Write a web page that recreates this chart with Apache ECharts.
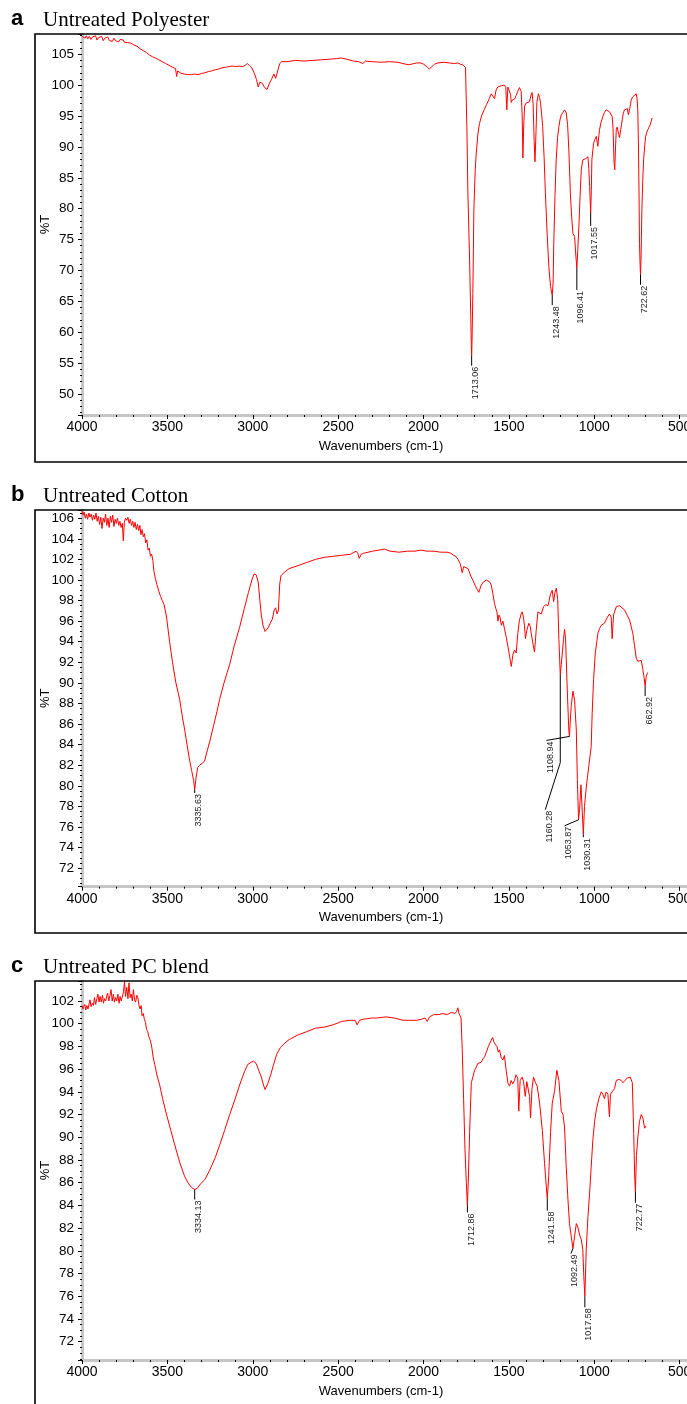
<!DOCTYPE html>
<html>
<head>
<meta charset="utf-8">
<script src="https://cdn.jsdelivr.net/npm/echarts@6/dist/echarts.min.js"></script>
<style>
  html, body { margin: 0; padding: 0; background: #fff; }
  #main { width: 687px; height: 1404px; }
</style>
</head>
<body>
<div id="main"></div>
<script>
// wavenumber (cm-1), %T pairs
var polyester = [
  [4000,107.9],[3990,108.1],[3982,107.6],[3975,108.0],[3966,107.5],[3957,107.9],[3948,107.4],[3939,107.8],[3930,107.6],[3921,108.0],
  [3912,107.3],[3903,107.7],[3894,107.4],[3885,107.9],[3876,107.2],[3867,107.6],[3858,107.3],[3849,107.8],[3840,107.2],[3831,107.5],
  [3822,107.1],[3813,107.6],[3804,107.2],[3795,107.5],[3786,107.0],[3777,107.4],[3768,107.1],[3759,107.3],[3750,106.9],[3741,107.2],
  [3732,106.9],[3723,107.1],[3714,106.8],[3705,107.0],[3696,106.5],[3687,106.7],[3678,106.3],[3669,106.4],[3660,105.9],[3651,106.1],
  [3642,105.6],[3633,105.8],[3624,105.3],[3615,105.4],[3606,104.9],[3597,105.0],[3588,104.6],[3579,104.7],[3570,104.4],[3560,104.2],
  [3550,104.1],[3540,103.9],[3530,103.8],[3520,103.6],[3510,103.5],[3500,103.3],[3490,103.2],[3480,103.0],[3470,102.9],[3460,102.8],
  [3452,102.7],[3446,101.4],[3440,102.3],[3430,102.2],[3420,101.9],[3410,102.1],[3400,101.8],[3390,102.0],[3380,101.7],[3370,101.9],
  [3360,101.7],[3340,101.8],[3320,101.7],[3300,101.9],[3280,102.0],[3260,102.2],[3240,102.3],[3220,102.5],[3200,102.6],[3180,102.8],
  [3160,102.9],[3140,103.0],[3120,103.1],[3100,103.0],[3080,103.1],[3060,103.0],[3045,103.2],[3032,103.5],[3020,103.2],[3006,102.8],
  [2992,102.0],[2978,100.9],[2968,99.7],[2958,100.5],[2944,100.3],[2930,99.6],[2916,99.3],[2904,100.2],[2891,100.9],[2876,101.8],
  [2866,101.1],[2855,101.4],[2842,103.5],[2830,103.8],[2800,103.8],[2750,104.0],[2700,103.9],[2650,104.0],[2600,104.1],[2550,104.2],
  [2510,104.3],[2480,104.4],[2450,104.2],[2410,103.9],[2380,103.8],[2355,103.5],[2340,103.9],[2300,103.8],[2250,103.7],[2200,103.8],
  [2150,103.7],[2120,103.5],[2090,103.3],[2070,103.4],[2040,103.6],[2018,103.6],[2000,103.4],[1980,103.0],[1966,102.6],[1956,102.8],
  [1935,103.4],[1915,103.6],[1880,103.7],[1850,103.6],[1820,103.5],[1800,103.6],[1785,103.4],[1772,103.3],[1762,103.0],[1754,102.9],
  [1746,93.3],[1740,82.5],[1730,71.7],[1724,63.6],[1720,58.0],[1718,56.2],[1716,58.2],[1711,66.3],[1705,79.8],[1697,86.3],
  [1691,89.0],[1681,92.2],[1672,93.8],[1660,95.0],[1645,96.0],[1630,96.9],[1615,97.8],[1603,98.6],[1593,98.9],[1584,97.8],
  [1575,99.2],[1565,99.7],[1545,99.9],[1526,100.0],[1518,99.6],[1512,96.0],[1506,99.7],[1497,100.0],[1490,98.5],[1486,97.2],
  [1480,97.6],[1474,97.4],[1465,97.8],[1458,98.3],[1448,99.0],[1438,99.6],[1428,99.0],[1422,95.0],[1418,88.2],[1413,93.5],
  [1408,96.6],[1399,97.1],[1388,97.0],[1380,97.3],[1370,98.4],[1364,98.8],[1358,97.0],[1352,91.0],[1347,87.6],[1341,92.5],
  [1336,97.2],[1327,98.6],[1320,98.0],[1314,97.0],[1308,95.2],[1302,93.3],[1294,88.5],[1286,82.5],[1276,76.0],[1266,70.6],
  [1256,67.4],[1250,66.5],[1246,66.0],[1241,68.0],[1237,74.4],[1230,82.0],[1223,87.9],[1215,91.5],[1207,93.3],[1200,94.5],
  [1193,95.2],[1183,95.6],[1174,96.0],[1168,95.8],[1164,95.5],[1156,93.6],[1148,89.0],[1140,82.5],[1132,78.5],[1125,76.0],
  [1115,75.5],[1108,72.5],[1102,70.4],[1096,73.5],[1090,77.1],[1083,82.0],[1076,86.3],[1067,87.9],[1058,88.0],[1051,88.1],
  [1044,87.8],[1037,88.4],[1032,86.5],[1027,83.6],[1021,79.3],[1017,83.0],[1014,87.9],[1008,89.5],[1004,90.6],[996,91.2],
  [988,91.7],[982,90.6],[979,90.1],[973,91.8],[969,92.8],[960,94.0],[950,94.9],[940,95.6],[930,96.0],[920,96.1],
  [911,95.7],[903,95.3],[895,94.9],[890,93.0],[884,87.5],[880,86.3],[876,89.5],[871,92.8],[866,93.2],[862,93.1],
  [856,92.0],[852,91.5],[845,92.8],[836,94.4],[830,95.4],[823,96.0],[812,96.1],[806,96.2],[800,95.2],[797,94.9],
  [790,96.5],[784,97.6],[775,98.1],[764,98.4],[754,98.6],[749,97.8],[745,96.0],[741,90.0],[738,83.0],[735,74.4],
  [731,70.5],[729,69.3],[726,72.0],[721,79.8],[716,84.5],[711,87.9],[705,90.0],[699,91.7],[692,92.4],[686,92.8],
  [679,93.2],[672,93.6],[666,94.2],[661,94.7]
];

var cotton = [
  [4000,106.7],[3994,106.3],[3988,106.6],[3981,106.0],[3974,106.4],[3967,105.9],[3960,106.5],[3953,106.1],[3946,106.4],[3939,105.8],
  [3932,106.3],[3925,105.9],[3918,106.5],[3911,105.7],[3904,106.2],[3897,105.4],[3890,106.1],[3883,105.0],[3876,106.0],[3869,105.6],
  [3862,106.4],[3855,105.3],[3848,106.0],[3841,105.1],[3834,106.2],[3827,105.6],[3820,106.3],[3813,105.2],[3806,105.9],[3799,105.5],
  [3792,106.0],[3785,105.3],[3778,105.7],[3771,105.1],[3764,105.5],[3758,103.8],[3752,105.6],[3745,106.0],[3738,105.8],[3731,106.1],
  [3724,105.5],[3717,105.9],[3710,105.3],[3703,105.7],[3696,105.1],[3689,105.6],[3682,104.9],[3675,105.4],[3668,104.8],[3661,105.3],
  [3655,104.4],[3648,104.9],[3641,104.2],[3634,104.5],[3627,103.6],[3620,103.9],[3613,102.9],[3606,103.1],[3599,102.3],[3592,102.5],
  [3585,101.9],[3578,100.8],[3571,100.2],[3562,99.6],[3550,98.9],[3540,98.4],[3530,98.0],[3519,97.6],[3505,96.4],[3487,94.0],
  [3470,92.0],[3450,90.0],[3428,88.4],[3410,86.5],[3399,85.5],[3385,84.0],[3370,82.5],[3358,81.5],[3346,80.5],[3340,79.6],
  [3332,80.8],[3322,81.8],[3311,82.0],[3296,82.2],[3282,82.4],[3270,83.2],[3252,84.3],[3230,85.8],[3210,87.2],[3194,88.4],
  [3170,89.9],[3150,91.0],[3135,91.8],[3110,93.5],[3077,95.4],[3050,97.2],[3025,98.8],[3005,100.0],[2992,100.6],[2980,100.5],
  [2968,99.8],[2958,98.0],[2950,96.6],[2940,95.6],[2928,95.0],[2918,94.9],[2908,95.4],[2895,95.9],[2885,96.2],[2874,97.1],
  [2866,97.3],[2858,96.7],[2850,97.0],[2842,99.6],[2835,100.4],[2812,100.8],[2787,101.1],[2735,101.4],[2684,101.7],[2633,102.0],
  [2582,102.2],[2530,102.3],[2479,102.4],[2427,102.5],[2395,102.8],[2385,102.6],[2376,102.1],[2365,102.5],[2350,102.6],[2299,102.8],
  [2260,102.9],[2230,103.0],[2196,102.8],[2144,102.7],[2093,102.8],[2050,102.8],[2016,102.9],[1980,102.8],[1939,102.8],[1900,102.7],
  [1862,102.7],[1840,102.6],[1824,102.4],[1810,102.3],[1798,102.0],[1785,101.6],[1773,100.7],[1765,101.3],[1755,101.3],[1739,101.1],
  [1721,100.3],[1711,100.0],[1696,99.4],[1688,99.5],[1676,98.8],[1668,99.2],[1662,99.5],[1650,99.8],[1642,99.8],[1632,100.0],
  [1623,100.0],[1612,99.8],[1603,99.5],[1594,98.7],[1584,97.7],[1576,97.2],[1570,96.9],[1564,96.0],[1558,96.6],[1552,96.4],
  [1544,95.6],[1535,96.0],[1525,95.2],[1515,94.4],[1505,93.5],[1498,92.8],[1492,92.2],[1486,91.6],[1480,92.3],[1477,92.7],
  [1467,93.2],[1457,92.9],[1448,94.8],[1438,96.1],[1428,96.7],[1422,96.9],[1415,96.4],[1409,95.6],[1403,94.3],[1395,95.1],
  [1383,95.8],[1375,95.5],[1369,94.8],[1360,93.9],[1350,93.0],[1345,94.0],[1340,95.1],[1330,96.9],[1320,96.9],[1310,96.7],
  [1297,97.4],[1285,97.6],[1271,97.5],[1264,98.0],[1257,98.6],[1246,99.0],[1238,97.9],[1230,98.8],[1222,99.2],[1214,98.1],
  [1207,94.2],[1199,90.8],[1193,91.8],[1187,92.9],[1180,94.2],[1174,95.2],[1168,94.3],[1158,89.3],[1149,85.4],[1145,84.8],
  [1140,86.4],[1135,87.7],[1125,89.2],[1115,88.3],[1105,85.4],[1099,80.6],[1092,76.7],[1086,77.7],[1078,80.1],[1070,77.4],
  [1064,75.3],[1057,78.0],[1047,79.8],[1040,80.8],[1032,81.9],[1018,83.8],[1012,87.1],[1004,90.3],[994,92.9],[985,94.0],
  [979,94.8],[969,95.3],[959,95.6],[950,95.7],[940,95.8],[926,96.3],[911,96.7],[901,96.4],[895,94.3],[890,95.8],
  [887,96.6],[879,97.0],[871,97.4],[862,97.5],[852,97.5],[838,97.3],[823,97.1],[808,96.6],[793,96.1],[784,95.5],
  [774,94.8],[764,93.6],[754,92.4],[745,92.1],[735,92.1],[725,92.2],[715,91.3],[708,90.5],[702,89.7],[696,90.6],
  [688,91.0]
];

var pcBlend = [
  [4000,101.6],[3995,101.3],[3990,101.5],[3984,101.7],[3978,101.2],[3972,101.6],[3965,101.3],[3959,101.4],[3953,102.1],[3947,101.5],
  [3940,101.8],[3933,101.6],[3927,102.3],[3920,101.7],[3913,102.2],[3907,102.6],[3900,101.9],[3894,102.4],[3887,101.9],[3880,102.5],
  [3874,101.8],[3868,102.2],[3862,102.0],[3856,102.1],[3850,102.7],[3843,102.0],[3836,102.5],[3830,103.0],[3823,102.0],[3816,102.6],
  [3810,101.9],[3803,102.3],[3797,102.0],[3790,102.6],[3783,101.8],[3777,102.4],[3770,102.0],[3764,102.1],[3757,102.8],[3751,103.7],
  [3745,102.4],[3738,103.2],[3731,102.2],[3725,103.6],[3718,102.3],[3712,102.6],[3705,102.0],[3699,103.0],[3692,102.1],[3686,101.9],
  [3679,102.5],[3673,102.3],[3666,101.6],[3660,101.3],[3654,101.6],[3648,100.7],[3641,100.9],[3635,100.4],[3628,100.1],[3622,99.5],
  [3615,99.3],[3609,98.9],[3602,98.6],[3596,98.3],[3590,97.8],[3584,97.1],[3574,96.4],[3560,95.4],[3545,94.6],[3528,93.4],
  [3510,92.3],[3487,91.0],[3460,89.5],[3428,87.8],[3400,86.6],[3380,86.0],[3360,85.6],[3340,85.4],[3325,85.5],[3311,85.8],
  [3280,86.3],[3252,87.1],[3220,88.2],[3194,89.3],[3165,90.6],[3135,92.0],[3105,93.3],[3077,94.6],[3048,95.8],[3030,96.4],
  [3010,96.6],[2995,96.7],[2980,96.5],[2965,95.9],[2950,95.3],[2937,94.6],[2928,94.2],[2920,94.3],[2910,94.8],[2895,95.5],
  [2880,96.3],[2860,97.3],[2838,97.9],[2812,98.3],[2787,98.6],[2736,99.0],[2684,99.3],[2633,99.6],[2582,99.7],[2530,99.9],
  [2479,100.2],[2427,100.3],[2400,100.3],[2389,99.9],[2375,100.3],[2350,100.4],[2300,100.5],[2274,100.5],[2220,100.6],[2171,100.5],
  [2119,100.3],[2080,100.3],[2042,100.3],[2010,100.4],[1991,100.5],[1978,100.2],[1965,100.6],[1940,100.8],[1910,100.8],[1888,100.9],
  [1860,100.8],[1837,101.0],[1815,100.9],[1805,101.1],[1799,101.4],[1792,100.9],[1786,101.0],[1780,100.5],[1773,97.7],[1765,93.3],
  [1757,88.9],[1749,86.0],[1743,84.0],[1738,86.0],[1730,90.4],[1720,94.8],[1711,95.3],[1701,95.9],[1690,96.2],[1682,96.5],
  [1662,96.6],[1652,96.9],[1642,97.1],[1632,97.5],[1620,98.0],[1605,98.5],[1595,98.8],[1588,98.4],[1580,98.2],[1570,98.0],
  [1562,97.5],[1555,97.7],[1545,97.0],[1535,96.8],[1526,97.2],[1516,95.9],[1506,94.8],[1496,94.5],[1487,95.0],[1477,94.7],
  [1467,95.0],[1458,95.5],[1448,95.2],[1442,92.3],[1434,95.0],[1422,95.3],[1414,94.9],[1404,93.6],[1395,94.9],[1385,95.0],
  [1379,93.6],[1373,91.7],[1365,94.2],[1356,95.3],[1344,94.8],[1334,94.5],[1320,93.0],[1304,90.6],[1291,87.7],[1281,85.7],
  [1275,84.6],[1267,86.5],[1256,90.4],[1246,93.0],[1232,94.1],[1219,95.9],[1207,95.0],[1193,92.3],[1183,92.0],[1174,90.9],
  [1164,87.4],[1154,84.5],[1145,82.4],[1135,81.3],[1125,80.2],[1115,81.3],[1105,82.4],[1096,82.1],[1086,81.4],[1076,81.0],
  [1067,80.1],[1061,77.7],[1055,76.0],[1047,80.1],[1037,83.0],[1027,85.1],[1018,87.4],[1008,89.8],[998,91.4],[988,92.4],
  [973,93.4],[959,94.0],[950,93.8],[940,93.4],[930,94.0],[920,93.8],[911,91.8],[905,93.8],[895,93.9],[881,94.3],
  [871,95.0],[856,95.1],[842,95.0],[832,94.8],[820,95.0],[809,95.2],[789,95.3],[777,94.8],[769,90.4],[763,86.5],
  [759,85.2],[753,88.4],[744,90.1],[735,91.4],[725,92.0],[715,91.7],[705,90.8],[696,91.0]
];

// labelled peaks: wavenumber, %T at the marked minimum, printed label
var peaksPolyester = [[1718,56.2,'1713.06'],[1246,66.0,'1243.48'],[1102,70.4,'1096.41'],[1021,79.3,'1017.55'],[729,69.3,'722.62']];
var peaksCotton = [[3340,79.6,'3335.63'],[1199,90.8,'1160.28'],[1145,84.8,'1108.94'],[1092,76.7,'1053.87'],[1064,75.3,'1030.31'],[702,89.7,'662.92']];
var peaksBlend = [[3340,85.4,'3334.13'],[1743,84.0,'1712.86'],[1275,84.6,'1241.58'],[1125,80.2,'1092.49'],[1055,76.0,'1017.58'],[759,85.2,'722.77']];

var xTicks = [4000, 3500, 3000, 2500, 2000, 1500, 1000, 500];

// leader line shapes (pixel offsets from the peak), last point is where the label starts
var leaders = [
  [[[0,10]], [[0,10]], [[0,22]], [[0,13]], [[0,10]]],
  [[[0,3]], [[0,88],[-15,135]], [[-23,4]], [[-14,6]], [[0,3]], [[0,10]]],
  [[[0,10]], [[0,7]], [[0,12]], [[-2,5]], [[0,11]], [[0,11]]]
];

var panels = [
  { tag: 'a', title: 'Untreated Polyester', data: polyester, peaks: peaksPolyester,
    top: 34, height: 381, boxBottom: 462, min: 46.6, max: 108.28, step: 5, minor: 5 },
  { tag: 'b', title: 'Untreated Cotton', data: cotton, peaks: peaksCotton,
    top: 510, height: 376.7, boxBottom: 933, min: 70.2, max: 106.8, step: 2, minor: 4 },
  { tag: 'c', title: 'Untreated PC blend', data: pcBlend, peaks: peaksBlend,
    top: 981, height: 379, boxBottom: 1420, min: 70.39, max: 103.76, step: 2, minor: 4 }
];

var sans = 'Liberation Sans, Arial, sans-serif';
var serif = 'Liberation Serif, Times New Roman, serif';
var axisGray = '#c6c6c6';

var chart = echarts.init(document.getElementById('main'));

var grids = [], xAxes = [], yAxes = [], series = [], graphics = [];

panels.forEach(function (p, i) {
  grids.push({ left: 82, top: p.top, width: 683, height: p.height, outerBoundsMode: 'none', containLabel: false });

  xAxes.push({
    gridIndex: i, type: 'value', inverse: true, min: 0, max: 4000, interval: 500,
    axisLine: { onZero: false, lineStyle: { color: axisGray, width: 3 } },
    axisTick: { length: 4, lineStyle: { color: '#000' } },
    minorTick: { show: true, splitNumber: 5, length: 2, lineStyle: { color: '#000' } },
    splitLine: { show: false },
    axisLabel: {
      color: '#000', fontSize: 14, fontFamily: sans, margin: 5,
      formatter: function (v) { return xTicks.indexOf(v) >= 0 ? String(v) : ''; }
    }
  });

  yAxes.push({
    gridIndex: i, type: 'value', min: p.min, max: p.max,
    minInterval: p.step, maxInterval: p.step, splitNumber: 12,
    name: '%T', nameLocation: 'middle', nameGap: 30, nameRotate: 90, nameMoveOverlap: false,
    nameTextStyle: { color: '#000', fontSize: 13, fontFamily: sans },
    axisLine: { show: true, onZero: false, lineStyle: { color: axisGray, width: 3 } },
    axisTick: { show: true, length: 4, lineStyle: { color: '#000' } },
    minorTick: { show: true, splitNumber: p.minor, length: 2, lineStyle: { color: '#000' } },
    splitLine: { show: false },
    axisLabel: { showMinLabel: false, showMaxLabel: false, color: '#000', fontSize: 13.5, fontFamily: sans, margin: 8 }
  });

  series.push({
    type: 'line', xAxisIndex: i, yAxisIndex: i, data: p.data,
    showSymbol: false, symbol: 'none', sampling: null,
    lineStyle: { color: '#ff0000', width: 1 }, z: 3, silent: true
  });

  var legs = leaders[i];
  series.push({
    type: 'custom', xAxisIndex: i, yAxisIndex: i, clip: false, silent: true, z: 4,
    data: p.peaks.map(function (k) { return [k[0], k[1]]; }),
    renderItem: function (params, api) {
      var pt = api.coord([api.value(0), api.value(1)]);
      var pts = [pt].concat(legs[params.dataIndex].map(function (d) { return [pt[0] + d[0], pt[1] + d[1]]; }));
      var end = pts[pts.length - 1];
      return {
        type: 'group',
        children: [
          { type: 'polyline', shape: { points: pts }, style: { stroke: '#000', lineWidth: 1, fill: null } },
          { type: 'text', x: end[0] + 4, y: end[1] + 1, rotation: Math.PI / 2,
            style: { text: p.peaks[params.dataIndex][2], font: '9px ' + sans, fill: '#222',
                     align: 'right', verticalAlign: 'middle' } }
        ]
      };
    }
  });

  graphics.push(
    { type: 'rect', shape: { x: 35, y: p.top, width: 720, height: p.boxBottom - p.top },
      style: { fill: null, stroke: '#000', lineWidth: 1.6 }, z: 10 },
    { type: 'text', x: 11, y: p.top - 15, style: { text: p.tag, font: 'bold 22px ' + sans, fill: '#000', verticalAlign: 'middle' } },
    { type: 'text', x: 43, y: p.top - 14, style: { text: p.title, font: '21px ' + serif, fill: '#000', verticalAlign: 'middle' } },
    { type: 'text', x: 381, y: p.top + p.height + 31, style: { text: 'Wavenumbers (cm-1)', font: '13px ' + sans, fill: '#000', align: 'center', verticalAlign: 'middle' } }
  );
});

chart.setOption({
  animation: false,
  grid: grids,
  xAxis: xAxes,
  yAxis: yAxes,
  series: series,
  graphic: graphics
});
</script>
</body>
</html>
